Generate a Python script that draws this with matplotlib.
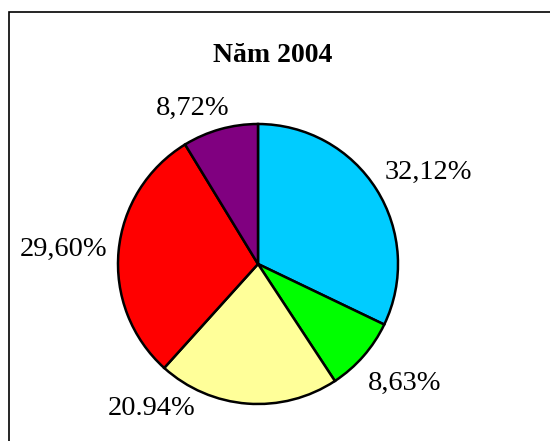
import matplotlib
matplotlib.use("Agg")
import matplotlib.pyplot as plt
from matplotlib.patches import Rectangle

title = "Năm 2004"
values = [32.12, 8.63, 20.94, 29.60, 8.72]
labels = ["32,12%", "8,63%", "20.94%", "29,60%", "8,72%"]
colors = ["#00CCFF", "#00FF00", "#FFFF99", "#FF0000", "#800080"]
label_pos = [(1.22, 0.657), (1.05, -0.85), (-0.757, -1.029), (-1.386, 0.107), (-0.464, 1.114)]

W, H = 550, 441
fig = plt.figure(figsize=(W / 100, H / 100), dpi=100)
fig.patch.set_facecolor("white")

# frame (only left/top visible in the crop)
fig.add_artist(Rectangle((9 / W, -0.1), 1.2, (H - 12) / H + 0.1, transform=fig.transFigure,
                         fill=False, edgecolor="black", linewidth=1.2))

cx, cy, r = 258, 264, 140
ax = fig.add_axes([(cx - r) / W, (H - cy - r) / H, 2 * r / W, 2 * r / H])
ax.pie(values, colors=colors, startangle=90, counterclock=False, radius=1,
       wedgeprops=dict(edgecolor="black", linewidth=1.8))
ax.set_xlim(-1, 1)
ax.set_ylim(-1, 1)
ax.set_aspect("auto")
ax.axis("off")
for lab, (x, y) in zip(labels, label_pos):
    ax.text(x, y, lab, ha="center", va="center", fontsize=20.5,
            family="Liberation Serif", clip_on=False)

fig.text(273 / W, 1 - 55 / H, title, ha="center", va="center", fontsize=20,
         fontweight="bold", family="Liberation Serif")

fig.savefig("out.png", dpi=100)
